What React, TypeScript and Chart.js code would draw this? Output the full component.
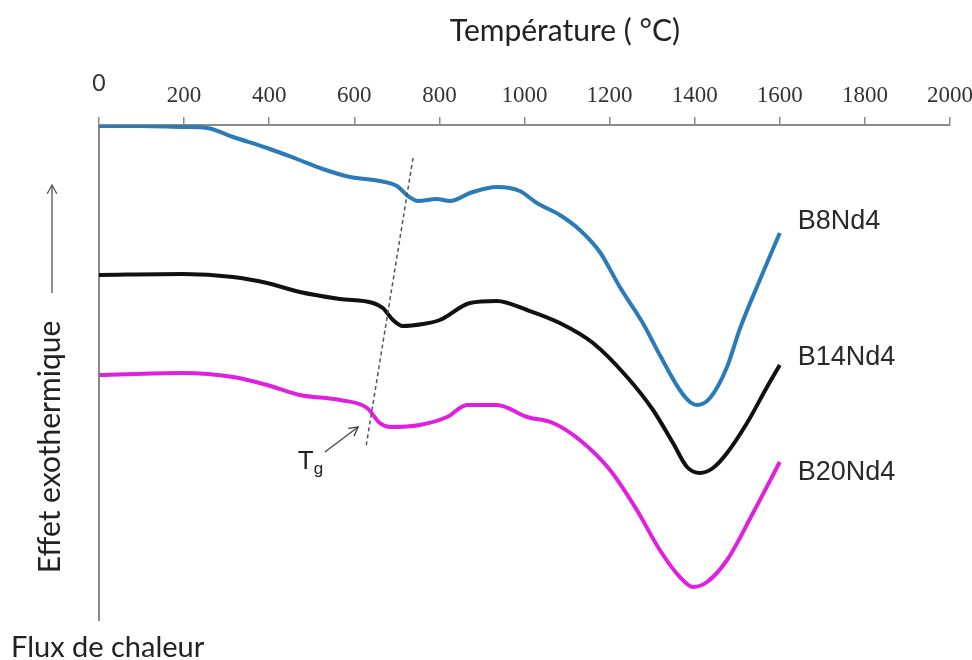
import { useEffect, useRef } from 'react';
import { Chart, registerables } from 'chart.js';

Chart.register(...registerables);

// ---------- data ----------
const temperatureTicks = [0, 200, 400, 600, 800, 1000, 1200, 1400, 1600, 1800, 2000];

const b8Temp = [0, 96, 197, 254, 315, 395, 465, 526, 590, 660, 700, 726, 750, 794, 825, 872, 935, 989, 1029, 1083, 1130, 1177, 1224, 1278, 1318, 1365, 1389, 1405, 1436, 1476, 1506, 1553, 1600];
const b8Flux = [1, 1, 2, 3, 12, 23, 34, 44, 52, 56, 61, 71, 76, 74, 76, 68, 62, 66, 78, 90, 105, 127, 162, 198, 230, 265, 277, 280, 273, 242, 204, 155, 108];

const b14Temp = [0, 197, 315, 395, 472, 566, 644, 667, 691, 714, 761, 801, 872, 935, 1006, 1083, 1161, 1241, 1302, 1349, 1382, 1412, 1443, 1476, 1523, 1570, 1600];
const b14Flux = [150, 149, 152, 158, 167, 174, 178, 183, 195, 201, 199, 195, 178, 176, 185, 198, 218, 252, 285, 318, 342, 348, 343, 328, 298, 262, 240];

const b20Temp = [0, 197, 315, 395, 472, 566, 630, 660, 684, 754, 818, 865, 935, 1006, 1067, 1130, 1201, 1264, 1318, 1365, 1396, 1429, 1476, 1537, 1600];
const b20Flux = [250, 248, 252, 260, 270, 275, 283, 298, 302, 300, 292, 280, 280, 292, 298, 315, 345, 385, 425, 452, 462, 457, 435, 388, 337];

const seriesNames = ['B8Nd4', 'B14Nd4', 'B20Nd4'];
const seriesColors = ['#2a7bb8', '#111111', '#e01fe0'];
const labelDy = [-11, -7, 11];

// Tg construction line (temperature, flux)
const tgLineTemp = [738, 627];
const tgLineFlux = [33, 323];
const tgArrowTemp = [531, 609];
const tgArrowFlux = [327, 302];
const tgLabelTemp = 486;
const tgLabelFlux = 333;

const titleText = 'Température ( °C)';
const titleTemp = 1095;
const yAxisText = 'Effet exothermique';
const bottomText = 'Flux de chaleur';

const FLUX_MAX = 495;

function toPoints(xs: number[], ys: number[]) {
  return xs.map((t, i) => ({ x: t, y: ys[i] }));
}

function arrowHead(ctx: CanvasRenderingContext2D, x1: number, y1: number, x2: number, y2: number, size: number) {
  const a = Math.atan2(y2 - y1, x2 - x1);
  ctx.beginPath();
  ctx.moveTo(x2 - size * Math.cos(a - 0.5), y2 - size * Math.sin(a - 0.5));
  ctx.lineTo(x2, y2);
  ctx.lineTo(x2 - size * Math.cos(a + 0.5), y2 - size * Math.sin(a + 0.5));
  ctx.stroke();
}

const annotationPlugin = {
  id: 'dscAnnotations',
  afterDraw(chart: any) {
    const { ctx, scales } = chart;
    const x = scales.x;
    const y = scales.y;
    ctx.save();

    // title
    ctx.fillStyle = '#222';
    ctx.font = '30px Lato';
    ctx.textAlign = 'center';
    ctx.textBaseline = 'middle';
    ctx.fillText(titleText, x.getPixelForValue(titleTemp), 31);

    // series labels at line ends
    ctx.font = '27px "Liberation Sans"';
    ctx.textAlign = 'left';
    const ends = [
      [b8Temp[b8Temp.length - 1], b8Flux[b8Flux.length - 1]],
      [b14Temp[b14Temp.length - 1], b14Flux[b14Flux.length - 1]],
      [b20Temp[b20Temp.length - 1], b20Flux[b20Flux.length - 1]],
    ];
    ends.forEach((e, i) => {
      ctx.fillStyle = '#2a2a2a';
      ctx.fillText(seriesNames[i], x.getPixelForValue(e[0]) + 18, y.getPixelForValue(e[1]) + labelDy[i]);
    });

    // Tg dashed line
    ctx.strokeStyle = '#555';
    ctx.lineWidth = 1.5;
    ctx.setLineDash([4, 3]);
    ctx.beginPath();
    ctx.moveTo(x.getPixelForValue(tgLineTemp[0]), y.getPixelForValue(tgLineFlux[0]));
    ctx.lineTo(x.getPixelForValue(tgLineTemp[1]), y.getPixelForValue(tgLineFlux[1]));
    ctx.stroke();
    ctx.setLineDash([]);

    // Tg arrow
    const ax1 = x.getPixelForValue(tgArrowTemp[0]);
    const ay1 = y.getPixelForValue(tgArrowFlux[0]);
    const ax2 = x.getPixelForValue(tgArrowTemp[1]);
    const ay2 = y.getPixelForValue(tgArrowFlux[1]);
    ctx.strokeStyle = '#444';
    ctx.lineWidth = 1.3;
    ctx.beginPath();
    ctx.moveTo(ax1, ay1);
    ctx.lineTo(ax2, ay2);
    ctx.stroke();
    arrowHead(ctx, ax1, ay1, ax2, ay2, 10);

    // Tg label
    ctx.fillStyle = '#222';
    ctx.font = '26px "Liberation Sans"';
    ctx.textAlign = 'center';
    ctx.textBaseline = 'alphabetic';
    const tx = x.getPixelForValue(tgLabelTemp);
    const ty = y.getPixelForValue(tgLabelFlux) + 11;
    ctx.fillText('T', tx, ty);
    ctx.font = '17px "Liberation Sans"';
    ctx.textAlign = 'left';
    ctx.fillText('g', tx + 8, ty + 5);

    // vertical y-axis caption with arrow
    ctx.save();
    ctx.translate(50, 447);
    ctx.rotate(-Math.PI / 2);
    ctx.font = '30px Lato';
    ctx.fillStyle = '#222';
    ctx.textAlign = 'center';
    ctx.textBaseline = 'middle';
    ctx.fillText(yAxisText, 0, 0);
    ctx.restore();

    ctx.strokeStyle = '#555';
    ctx.lineWidth = 1.3;
    ctx.beginPath();
    ctx.moveTo(52, 293);
    ctx.lineTo(52, 185);
    ctx.stroke();
    arrowHead(ctx, 52, 293, 52, 185, 10);

    // bottom caption
    ctx.fillStyle = '#222';
    ctx.font = '29px Lato';
    ctx.textAlign = 'left';
    ctx.textBaseline = 'alphabetic';
    ctx.fillText(bottomText, 11, 657);

    ctx.restore();
  },
};

export default function App() {
  const canvasRef = useRef<HTMLCanvasElement | null>(null);

  useEffect(() => {
    if (!canvasRef.current) return;
    const datasets = [
      toPoints(b8Temp, b8Flux),
      toPoints(b14Temp, b14Flux),
      toPoints(b20Temp, b20Flux),
    ].map((pts, i) => ({
      label: seriesNames[i],
      data: pts,
      borderColor: seriesColors[i],
      backgroundColor: seriesColors[i],
      borderWidth: 4,
      pointRadius: 0,
      cubicInterpolationMode: 'monotone' as const,
      fill: false,
    }));

    const chart = new Chart(canvasRef.current, {
      type: 'line',
      data: { datasets },
      options: {
        responsive: false,
        animation: false,
        devicePixelRatio: 1,
        layout: { padding: { left: 99, right: 22, top: 65, bottom: 40 } },
        plugins: {
          legend: { display: false },
          title: { display: false },
          tooltip: { enabled: false },
        },
        scales: {
          x: {
            type: 'linear',
            position: 'top',
            min: 0,
            max: 2000,
            afterBuildTicks: (scale: any) => {
              scale.ticks = temperatureTicks.map((v) => ({ value: v }));
            },
            afterFit: (scale: any) => {
              scale.height = 60;
              scale.paddingLeft = 0;
              scale.paddingRight = 0;
            },
            grid: {
              drawOnChartArea: false,
              drawTicks: true,
              tickLength: 8,
              color: '#8a8a8a',
              lineWidth: 1.5,
            },
            border: { display: true, color: '#8a8a8a', width: 2 },
            ticks: {
              padding: 10,
              maxRotation: 0,
              color: '#333',
              font: (ctx: any) =>
                ctx.tick && ctx.tick.value === 0
                  ? { family: 'Lato', size: 23, lineHeight: 2.0 }
                  : { family: '"Liberation Serif"', size: 23, lineHeight: 1.0 },
              callback: (v: any) => String(v),
            },
          },
          y: {
            type: 'linear',
            position: 'left',
            reverse: true,
            min: 0,
            max: FLUX_MAX,
            afterFit: (scale: any) => {
              scale.width = 0;
              scale.paddingTop = 0;
              scale.paddingBottom = 0;
            },
            grid: { drawOnChartArea: false, drawTicks: false },
            border: { display: true, color: '#8a8a8a', width: 2 },
            ticks: { display: false },
          },
        },
      },
      plugins: [annotationPlugin],
    });
    return () => chart.destroy();
  }, []);

  return (
    <canvas
      ref={canvasRef}
      width={972}
      height={660}
      style={{ position: 'absolute', left: 0, top: 0, width: 972, height: 660 }}
    />
  );
}
